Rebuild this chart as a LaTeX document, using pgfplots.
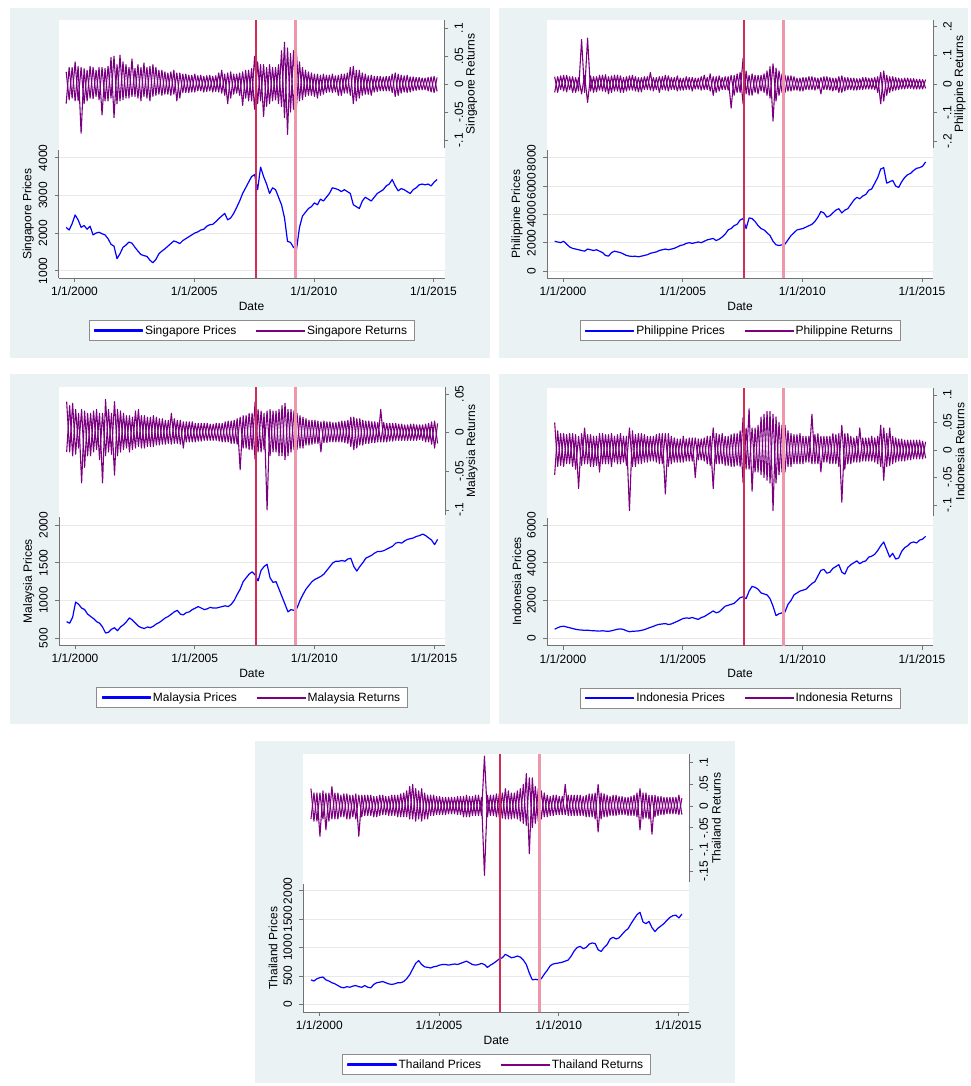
\documentclass[border=0pt]{standalone}
\usepackage{pgfplots}
\pgfplotsset{compat=1.18}
\usepackage{pgfplotstable}
\usepackage{fontspec}
\setmainfont{Liberation Sans}
\newcommand{\fs}{\fontsize{12}{14}\selectfont}
\definecolor{bgc}{RGB}{234,242,243}
\definecolor{vlA}{RGB}{210,45,85}
\definecolor{vlB}{RGB}{240,150,170}

\pgfplotsset{
  legend image code/.code={\fill[#1] (0pt,-0.55pt) rectangle (48pt,0.55pt);},
  common/.style={scale only axis, width=386pt, height=128pt, anchor=north west,
    xmin=1999.33, xmax=2015.46,
    tick align=outside, major tick length=4pt,
    tick style={draw=black!55, line width=0.6pt},
    axis line style={draw=black!55, line width=0.6pt},
    tick label style={font=\fs},
    scaled ticks=false},
  retax/.style={common, axis x line=none, axis y line*=right, ytick pos=right,
    yticklabel style={rotate=90, anchor=north, inner sep=0pt}, yticklabel shift=6pt,
    every axis y label/.style={at={(rel axis cs:1.07,0.5)}, rotate=90, anchor=center, font=\fs}},
  priceax/.style={common, axis x line*=bottom, axis y line*=left, xtick pos=left, ytick pos=left,
    xtick={2000,2005,2010,2015}, xticklabels={1/1/2000,1/1/2005,1/1/2010,1/1/2015},
    xticklabel style={anchor=north, inner sep=0pt}, xticklabel shift=5pt,
    yticklabel style={rotate=90, anchor=south, inner sep=0pt}, yticklabel shift=7pt,
    ymajorgrids, grid style={draw=black!9, line width=0.6pt},
    xlabel={Date},
    every axis x label/.style={at={(rel axis cs:0.5,0)}, anchor=center, yshift=-28pt, font=\fs},
    every axis y label/.style={at={(rel axis cs:-0.078,0.5)}, rotate=90, anchor=center, font=\fs},
    legend columns=2,
    legend style={at={(0.5,-0.33)}, anchor=north, draw=black!45, fill=white, line width=0.6pt,
      font=\fs, inner xsep=5pt, inner ysep=3pt,
      /tikz/every even column/.append style={column sep=18pt}},
    legend cell align=left},
  lineax/.style={common, height=258pt, ymin=0, ymax=1, hide axis},
}

% #1 L, #2 T, #3 table, #4 name, #5 returns opts, #6 price opts, #7 colour digit
\newcommand{\panel}[7]{%
\definecolor{pc}{RGB}{#7,0,255}%
\definecolor{rc}{RGB}{12#7,0,128}%
\fill[white] ({#1pt},{-#2pt}) rectangle ++(386pt,-258pt);
\begin{axis}[retax, at={({#1pt},{-#2pt})}, #5, ylabel={#4 Returns}]
\addplot[color=rc, line width=1.1pt, line join=round] table[x=x,y=r] {#3};
\addplot[color=rc, line width=1.1pt, line join=round] table[x=x,y=s] {#3};
\end{axis}
\begin{axis}[priceax, at={({#1pt},{-#2pt-130pt})}, #6, ylabel={#4 Prices}]
\addplot[color=pc, line width=1.2pt, line join=round] table[x=x,y=p] {#3};
\addlegendentry{#4 Prices}
\addlegendimage{color=rc}
\addlegendentry{#4 Returns}
\end{axis}
}
% red reference lines: #1 L, #2 T, #3 left edge of first line, #4 right edge of first line
\newcommand{\vlines}[4]{%
\begin{axis}[lineax, at={({#1pt},{-#2pt})}]
\addplot[fill=vlA, draw=none] coordinates {(#3,0) (#4,0) (#4,1) (#3,1)} -- cycle;
\addplot[fill=vlB, draw=none] coordinates {(2009.157,0) (2009.283,0) (2009.283,1) (2009.157,1)} -- cycle;
\end{axis}
}

\pgfplotstableread{
x p r s
1999.650 2150 .022 -.035
1999.775 2080 -.028 .030
1999.900 2250 .030 -.025
2000.025 2480 -.030 .040
2000.150 2350 .032 -.030
2000.275 2150 -.088 .030
2000.400 2200 .028 -.035
2000.525 2100 -.030 .025
2000.650 2180 .032 -.025
2000.775 1950 -.026 .030
2000.900 2000 .025 -.022
2001.025 2020 -.028 .030
2001.150 1980 .030 -.055
2001.275 1950 -.030 .028
2001.400 1850 .032 -.030
2001.525 1700 -.025 .048
2001.650 1650 .050 -.060
2001.775 1320 -.035 .035
2001.900 1450 .052 -.030
2002.025 1620 -.028 .040
2002.150 1680 .035 -.025
2002.275 1760 -.025 .030
2002.400 1730 .045 -.022
2002.525 1620 -.022 .028
2002.650 1520 .035 -.025
2002.775 1430 -.030 .030
2002.900 1400 .038 -.022
2003.025 1380 -.025 .030
2003.150 1280 .032 -.030
2003.275 1210 -.022 .035
2003.400 1300 .030 -.020
2003.525 1450 -.018 .025
2003.650 1520 .025 -.020
2003.775 1580 -.018 .022
2003.900 1650 .020 -.018
2004.025 1720 -.020 .022
2004.150 1790 .025 -.018
2004.275 1760 -.030 .020
2004.400 1720 .020 -.025
2004.525 1800 -.015 .018
2004.650 1850 .018 -.015
2004.775 1900 -.015 .016
2004.900 1950 .016 -.014
2005.025 2000 -.014 .018
2005.150 2030 .015 -.012
2005.275 2080 -.012 .016
2005.400 2100 .014 -.014
2005.525 2180 -.013 .015
2005.650 2220 .016 -.012
2005.775 2230 -.014 .014
2005.900 2300 .015 -.013
2006.025 2380 -.014 .020
2006.150 2450 .025 -.016
2006.275 2520 -.020 .018
2006.400 2350 .020 -.035
2006.525 2400 -.025 .022
2006.650 2520 .018 -.018
2006.775 2680 -.016 .018
2006.900 2850 .020 -.020
2007.025 3050 -.038 .022
2007.150 3200 .025 -.025
2007.275 3350 -.030 .025
2007.400 3500 .028 -.030
2007.525 3550 -.045 .050
2007.650 3150 .040 -.035
2007.775 3750 -.030 .035
2007.900 3500 .035 -.058
2008.025 3300 -.040 .030
2008.150 3050 .035 -.035
2008.275 3200 -.030 .030
2008.400 3150 .030 -.028
2008.525 2950 -.035 .035
2008.650 2750 .060 -.040
2008.775 2400 -.060 .075
2008.900 1780 .065 -.090
2009.025 1750 -.050 .055
2009.150 1620 .060 -.045
2009.275 1560 -.040 .055
2009.400 2150 .040 -.030
2009.525 2450 -.028 .030
2009.650 2550 .025 -.022
2009.775 2650 -.020 .022
2009.900 2700 .020 -.020
2010.025 2800 -.022 .018
2010.150 2750 .018 -.025
2010.275 2900 -.020 .016
2010.400 2850 .018 -.018
2010.525 2950 -.015 .016
2010.650 3050 .016 -.014
2010.775 3200 -.015 .018
2010.900 3180 .015 -.014
2011.025 3150 -.020 .016
2011.150 3100 .018 -.020
2011.275 3150 -.016 .018
2011.400 3100 .020 -.016
2011.525 3050 -.020 .030
2011.650 2750 .032 -.035
2011.775 2700 -.030 .025
2011.900 2650 .025 -.025
2012.025 2850 -.020 .020
2012.150 2950 .018 -.018
2012.275 2900 -.018 .015
2012.400 2850 .016 -.020
2012.525 2950 -.014 .014
2012.650 3050 .014 -.013
2012.775 3100 -.012 .014
2012.900 3150 .013 -.012
2013.025 3250 -.012 .014
2013.150 3300 .014 -.012
2013.275 3420 -.015 .018
2013.400 3250 .020 -.022
2013.525 3120 -.020 .018
2013.650 3180 .016 -.016
2013.775 3150 -.014 .015
2013.900 3100 .016 -.015
2014.025 3050 -.014 .013
2014.150 3150 .013 -.012
2014.275 3200 -.011 .012
2014.400 3280 .012 -.010
2014.525 3300 -.010 .011
2014.650 3280 .011 -.010
2014.775 3300 -.012 .012
2014.900 3250 .013 -.014
2015.025 3350 -.015 .014
2015.150 3420 .012 -.013
}\tSG

\pgfplotstableread{
x p r s
1999.650 2100 .025 -.030
1999.775 2050 -.030 .025
1999.900 2000 .028 -.020
2000.025 2100 -.025 .030
2000.150 1900 .030 -.028
2000.275 1700 -.020 .025
2000.400 1600 .025 -.030
2000.525 1550 -.030 .022
2000.650 1500 .022 -.025
2000.775 1450 -.035 .155
2000.900 1400 .030 -.030
2001.025 1550 -.065 .160
2001.150 1500 .028 -.025
2001.275 1450 -.030 .025
2001.400 1500 .025 -.028
2001.525 1400 -.022 .030
2001.650 1300 .030 -.025
2001.775 1100 -.028 .032
2001.900 1050 .025 -.035
2002.025 1300 -.030 .028
2002.150 1400 .030 -.025
2002.275 1350 -.025 .030
2002.400 1300 .028 -.030
2002.525 1200 -.030 .022
2002.650 1100 .025 -.025
2002.775 1050 -.022 .028
2002.900 1030 .030 -.022
2003.025 1050 -.025 .025
2003.150 1000 .022 -.028
2003.275 1050 -.028 .022
2003.400 1100 .025 -.020
2003.525 1150 -.020 .025
2003.650 1250 .040 -.022
2003.775 1300 -.025 .022
2003.900 1350 .022 -.020
2004.025 1450 -.030 .025
2004.150 1500 .025 -.020
2004.275 1550 -.022 .030
2004.400 1500 .028 -.025
2004.525 1550 -.020 .022
2004.650 1600 .022 -.020
2004.775 1700 -.025 .028
2004.900 1800 .020 -.022
2005.025 1850 -.022 .020
2005.150 1950 .025 -.020
2005.275 2000 -.020 .022
2005.400 1950 .022 -.025
2005.525 2000 -.018 .020
2005.650 2050 .020 -.018
2005.775 2000 -.022 .025
2005.900 2100 .030 -.020
2006.025 2200 -.020 .022
2006.150 2250 .035 -.025
2006.275 2300 -.040 .025
2006.400 2150 .025 -.030
2006.525 2250 -.025 .028
2006.650 2400 .022 -.020
2006.775 2600 -.020 .025
2006.900 2900 .025 -.022
2007.025 3000 -.085 .030
2007.150 3200 .030 -.040
2007.275 3300 -.030 .035
2007.400 3600 .040 -.030
2007.525 3700 -.070 .090
2007.650 3000 .045 -.035
2007.775 3750 -.040 .030
2007.900 3700 .035 -.040
2008.025 3500 -.030 .030
2008.150 3200 .030 -.035
2008.275 3000 -.025 .030
2008.400 2900 .035 -.030
2008.525 2700 -.040 .045
2008.650 2500 .060 -.050
2008.775 2100 -.130 .070
2008.900 1850 .055 -.060
2009.025 1800 -.040 .045
2009.150 1850 .035 -.030
2009.275 1900 -.030 .030
2009.400 2200 .028 -.025
2009.525 2500 -.025 .028
2009.650 2700 .025 -.022
2009.775 2900 -.022 .020
2009.900 2950 .020 -.025
2010.025 3000 -.025 .022
2010.150 3100 .022 -.020
2010.275 3200 -.020 .025
2010.400 3300 .025 -.020
2010.525 3500 -.022 .022
2010.650 3800 .020 -.018
2010.775 4200 -.035 .022
2010.900 4100 .025 -.020
2011.025 3800 -.020 .025
2011.150 3900 .022 -.022
2011.275 4100 -.025 .020
2011.400 4300 .020 -.022
2011.525 4400 -.030 .025
2011.650 4100 .028 -.030
2011.775 4300 -.025 .022
2011.900 4400 .022 -.020
2012.025 4700 -.020 .020
2012.150 5000 .020 -.022
2012.275 5200 -.022 .018
2012.400 5100 .018 -.020
2012.525 5300 -.020 .022
2012.650 5400 .022 -.018
2012.775 5700 -.018 .020
2012.900 5800 .020 -.018
2013.025 6200 -.020 .022
2013.150 6600 .025 -.030
2013.275 7200 -.070 .040
2013.400 7300 .045 -.060
2013.525 6200 -.040 .030
2013.650 6300 .025 -.030
2013.775 6400 -.025 .025
2013.900 6000 .022 -.022
2014.025 5900 -.020 .020
2014.150 6300 .018 -.018
2014.275 6600 -.018 .020
2014.400 6800 .020 -.016
2014.525 6900 -.016 .018
2014.650 7100 .018 -.018
2014.775 7250 -.018 .016
2014.900 7300 .016 -.018
2015.025 7400 -.018 .015
2015.150 7700 .015 -.016
}\tPH

\pgfplotstableread{
x p r s
1999.650 720 .040 -.025
1999.775 700 -.025 .035
1999.900 780 .038 -.030
2000.025 980 -.028 .030
2000.150 950 .025 -.020
2000.275 900 -.065 .030
2000.400 880 .028 -.045
2000.525 820 -.030 .025
2000.650 790 .025 -.030
2000.775 760 -.025 .028
2000.900 720 .030 -.022
2001.025 700 -.035 .025
2001.150 650 .025 -.065
2001.275 570 -.030 .043
2001.400 580 .030 -.025
2001.525 620 -.028 .025
2001.650 640 .040 -.055
2001.775 600 -.030 .030
2001.900 650 .028 -.025
2002.025 680 -.022 .025
2002.150 720 .022 -.020
2002.275 770 -.025 .022
2002.400 740 .020 -.022
2002.525 700 -.020 .028
2002.650 660 .030 -.018
2002.775 640 -.020 .022
2002.900 630 .022 -.020
2003.025 650 -.018 .020
2003.150 640 .020 -.018
2003.275 660 -.018 .022
2003.400 690 .020 -.016
2003.525 710 -.016 .018
2003.650 740 .018 -.015
2003.775 770 -.015 .016
2003.900 790 .016 -.014
2004.025 820 -.015 .025
2004.150 850 .018 -.014
2004.275 870 -.014 .016
2004.400 820 .016 -.015
2004.525 810 -.020 .014
2004.650 840 .014 -.012
2004.775 850 -.012 .014
2004.900 880 .014 -.012
2005.025 900 -.012 .012
2005.150 920 .012 -.011
2005.275 900 -.011 .012
2005.400 880 .012 -.010
2005.525 890 -.010 .012
2005.650 910 .011 -.010
2005.775 900 -.010 .011
2005.900 900 .012 -.010
2006.025 910 -.011 .012
2006.150 920 .012 -.012
2006.275 930 -.012 .014
2006.400 920 .015 -.012
2006.525 950 -.014 .015
2006.650 1000 .016 -.014
2006.775 1080 -.015 .018
2006.900 1150 .020 -.048
2007.025 1250 -.020 .022
2007.150 1300 .022 -.020
2007.275 1350 -.022 .025
2007.400 1380 .025 -.022
2007.525 1340 -.035 .040
2007.650 1260 .030 -.025
2007.775 1400 -.025 .028
2007.900 1450 .025 -.022
2008.025 1480 -.100 .028
2008.150 1300 .030 -.030
2008.275 1240 -.025 .028
2008.400 1250 .028 -.025
2008.525 1150 -.030 .030
2008.650 1050 .035 -.030
2008.775 950 -.035 .038
2008.900 850 .030 -.030
2009.025 880 -.025 .030
2009.150 870 .028 -.022
2009.275 900 -.022 .025
2009.400 1000 .022 -.020
2009.525 1080 -.020 .020
2009.650 1150 .018 -.016
2009.775 1200 -.016 .016
2009.900 1250 .016 -.015
2010.025 1280 -.014 .016
2010.150 1300 .015 -.014
2010.275 1320 -.025 .014
2010.400 1350 .015 -.013
2010.525 1400 -.013 .014
2010.650 1450 .014 -.012
2010.775 1500 -.012 .013
2010.900 1520 .013 -.012
2011.025 1520 -.012 .014
2011.150 1530 .015 -.012
2011.275 1520 -.013 .015
2011.400 1550 .016 -.014
2011.525 1560 -.018 .020
2011.650 1450 .020 -.022
2011.775 1390 -.020 .018
2011.900 1450 .018 -.016
2012.025 1500 -.016 .016
2012.150 1560 .015 -.014
2012.275 1580 -.014 .015
2012.400 1600 .014 -.013
2012.525 1630 -.013 .014
2012.650 1650 .013 -.012
2012.775 1650 -.012 .030
2012.900 1660 .013 -.012
2013.025 1680 -.012 .012
2013.150 1700 .012 -.011
2013.275 1720 -.011 .012
2013.400 1760 .012 -.010
2013.525 1770 -.010 .011
2013.650 1760 .011 -.010
2013.775 1790 -.010 .010
2013.900 1810 .010 -.010
2014.025 1820 -.010 .011
2014.150 1830 .011 -.010
2014.275 1850 -.010 .010
2014.400 1860 .010 -.009
2014.525 1880 -.010 .010
2014.650 1860 .011 -.012
2014.775 1830 -.012 .012
2014.900 1800 .014 -.015
2015.025 1740 -.020 .015
2015.150 1810 .012 -.014
}\tMY

\pgfplotstableread{
x p r s
1999.650 480 .050 -.045
1999.775 560 -.030 .035
1999.900 620 .030 -.028
2000.025 640 -.030 .030
2000.150 600 .028 -.025
2000.275 560 -.025 .030
2000.400 520 .030 -.030
2000.525 480 -.035 .028
2000.650 450 .025 -.070
2000.775 440 -.028 .030
2000.900 420 .040 -.025
2001.025 430 -.025 .028
2001.150 410 .028 -.030
2001.275 400 -.030 .025
2001.400 390 .025 -.028
2001.525 380 -.040 .030
2001.650 400 .030 -.025
2001.775 380 -.025 .028
2001.900 370 .028 -.025
2002.025 400 -.030 .030
2002.150 440 .025 -.022
2002.275 480 -.025 .028
2002.400 500 .030 -.025
2002.525 470 -.022 .025
2002.650 400 .025 -.028
2002.775 350 -.110 .040
2002.900 370 .035 -.030
2003.025 380 -.030 .028
2003.150 390 .030 -.025
2003.275 420 -.025 .030
2003.400 460 .028 -.022
2003.525 520 -.022 .025
2003.650 580 .025 -.020
2003.775 630 -.020 .025
2003.900 700 .028 -.022
2004.025 740 -.025 .030
2004.150 760 .030 -.025
2004.275 780 -.080 .030
2004.400 730 .030 -.030
2004.525 760 -.025 .025
2004.650 830 .022 -.022
2004.775 900 -.022 .020
2004.900 980 .020 -.022
2005.025 1050 -.022 .025
2005.150 1080 .020 -.020
2005.275 1060 -.020 .022
2005.400 1100 .022 -.020
2005.525 1050 -.050 .022
2005.650 1000 .020 -.018
2005.775 1100 -.018 .020
2005.900 1150 .022 -.020
2006.025 1250 -.025 .025
2006.150 1350 .025 -.028
2006.275 1450 -.070 .040
2006.400 1350 .030 -.025
2006.525 1400 -.025 .028
2006.650 1550 .030 -.025
2006.775 1700 -.028 .025
2006.900 1750 .025 -.028
2007.025 1800 -.030 .028
2007.150 1850 .030 -.030
2007.275 2000 -.028 .030
2007.400 2150 .035 -.030
2007.525 2200 -.060 .060
2007.650 2100 .040 -.035
2007.775 2500 -.035 .075
2007.900 2750 .040 -.075
2008.025 2700 -.040 .040
2008.150 2600 .045 -.040
2008.275 2400 -.045 .060
2008.400 2350 .065 -.050
2008.525 2300 -.055 .070
2008.650 2100 .070 -.060
2008.775 1700 -.110 .065
2008.900 1200 .060 -.060
2009.025 1300 -.045 .050
2009.150 1350 .045 -.040
2009.275 1400 -.040 .045
2009.400 1800 .035 -.030
2009.525 2000 -.030 .030
2009.650 2300 .028 -.025
2009.775 2400 -.025 .028
2009.900 2500 .030 -.025
2010.025 2550 -.025 .025
2010.150 2600 .025 -.022
2010.275 2750 -.022 .025
2010.400 2900 .065 -.025
2010.525 3000 -.025 .028
2010.650 3300 .030 -.025
2010.775 3600 -.040 .025
2010.900 3650 .025 -.022
2011.025 3450 -.022 .025
2011.150 3500 .025 -.025
2011.275 3700 -.025 .030
2011.400 3800 .028 -.025
2011.525 3900 -.030 .030
2011.650 3500 .045 -.095
2011.775 3400 -.035 .030
2011.900 3750 .030 -.025
2012.025 3900 -.025 .025
2012.150 4000 .022 -.022
2012.275 4100 -.022 .025
2012.400 3950 .040 -.022
2012.525 4050 -.020 .022
2012.650 4100 .022 -.020
2012.775 4300 -.020 .022
2012.900 4350 .025 -.020
2013.025 4450 -.022 .022
2013.150 4650 .025 -.025
2013.275 4900 -.030 .045
2013.400 5100 .040 -.055
2013.525 4700 -.030 .030
2013.650 4300 .040 -.028
2013.775 4500 -.025 .025
2013.900 4200 .022 -.022
2014.025 4250 -.020 .020
2014.150 4600 .020 -.020
2014.275 4800 -.020 .018
2014.400 4900 .018 -.018
2014.525 5050 -.018 .018
2014.650 5100 .018 -.016
2014.775 5050 -.016 .018
2014.900 5200 .018 -.016
2015.025 5250 -.016 .016
2015.150 5400 .015 -.015
}\tID

\pgfplotstableread{
x p r s
1999.650 430 .040 -.030
1999.775 410 -.035 .030
1999.900 450 .030 -.035
2000.025 470 -.070 .030
2000.150 480 .035 -.030
2000.275 430 -.055 .030
2000.400 410 .030 -.035
2000.525 380 -.030 .045
2000.650 360 .030 -.030
2000.775 330 -.030 .030
2000.900 300 .025 -.025
2001.025 290 -.025 .028
2001.150 310 .028 -.030
2001.275 300 -.030 .025
2001.400 320 .025 -.025
2001.525 330 -.030 .028
2001.650 310 .025 -.070
2001.775 300 -.025 .025
2001.900 330 .025 -.022
2002.025 300 -.022 .025
2002.150 290 .025 -.022
2002.275 350 -.025 .022
2002.400 380 .022 -.025
2002.525 390 -.022 .025
2002.650 400 .025 -.020
2002.775 380 -.020 .022
2002.900 360 .022 -.022
2003.025 350 -.022 .025
2003.150 360 .025 -.022
2003.275 380 -.025 .025
2003.400 380 .028 -.025
2003.525 400 -.025 .030
2003.650 450 .035 -.025
2003.775 520 -.030 .045
2003.900 620 .050 -.030
2004.025 720 -.035 .040
2004.150 770 .035 -.030
2004.275 700 -.035 .040
2004.400 660 .030 -.030
2004.525 650 -.030 .025
2004.650 640 .025 -.022
2004.775 660 -.022 .025
2004.900 670 .022 -.020
2005.025 690 -.020 .022
2005.150 700 .020 -.020
2005.275 700 -.020 .020
2005.400 690 .020 -.018
2005.525 700 -.018 .020
2005.650 710 .020 -.018
2005.775 700 -.020 .022
2005.900 720 .022 -.020
2006.025 740 -.025 .022
2006.150 760 .025 -.025
2006.275 730 -.025 .022
2006.400 700 .022 -.022
2006.525 690 -.022 .025
2006.650 700 .025 -.022
2006.775 720 -.022 .020
2006.900 700 .115 -.160
2007.025 650 -.025 .025
2007.150 690 .025 -.022
2007.275 720 -.022 .025
2007.400 760 .028 -.025
2007.525 800 -.028 .030
2007.650 820 .030 -.028
2007.775 880 -.030 .040
2007.900 850 .035 -.030
2008.025 820 -.030 .030
2008.150 830 .030 -.028
2008.275 850 -.030 .035
2008.400 830 .040 -.035
2008.525 780 -.040 .050
2008.650 700 .075 -.045
2008.775 550 -.110 .065
2008.900 430 .065 -.050
2009.025 440 -.040 .045
2009.150 430 .040 -.035
2009.275 450 -.030 .035
2009.400 530 .030 -.025
2009.525 600 -.025 .025
2009.650 680 .022 -.022
2009.775 710 -.022 .025
2009.900 720 .025 -.020
2010.025 730 -.020 .022
2010.150 740 .022 -.020
2010.275 760 -.020 .050
2010.400 780 .025 -.022
2010.525 850 -.022 .025
2010.650 940 .025 -.022
2010.775 1000 -.022 .025
2010.900 1020 .025 -.022
2011.025 980 -.022 .022
2011.150 1000 .025 -.025
2011.275 1060 -.025 .028
2011.400 1080 .028 -.025
2011.525 1070 -.030 .030
2011.650 960 .050 -.060
2011.775 930 -.030 .030
2011.900 1000 .028 -.025
2012.025 1050 -.025 .025
2012.150 1150 .022 -.022
2012.275 1180 -.022 .025
2012.400 1150 .025 -.022
2012.525 1170 -.020 .022
2012.650 1230 .022 -.020
2012.775 1290 -.020 .020
2012.900 1330 .020 -.022
2013.025 1420 -.022 .022
2013.150 1500 .025 -.022
2013.275 1580 -.025 .030
2013.400 1620 .040 -.055
2013.525 1450 -.030 .030
2013.650 1420 .030 -.028
2013.775 1460 -.030 .025
2013.900 1350 .025 -.065
2014.025 1280 -.025 .025
2014.150 1340 .022 -.022
2014.275 1380 -.020 .022
2014.400 1420 .020 -.020
2014.525 1480 -.018 .020
2014.650 1530 .020 -.018
2014.775 1560 -.018 .020
2014.900 1570 .020 -.018
2015.025 1520 -.020 .025
2015.150 1590 .018 -.020
}\tTH

\begin{document}
\begin{tikzpicture}[x=1pt,y=1pt]
\path[use as bounding box] (0,0) rectangle (970,-1086);
\fill[white] (0,0) rectangle (970,-1086);
\fill[bgc] (10,-8) rectangle (490,-358);
\fill[bgc] (499,-8) rectangle (968,-358);
\fill[bgc] (10,-374) rectangle (490,-724);
\fill[bgc] (499,-374) rectangle (968,-724);
\fill[bgc] (255,-741) rectangle (735,-1083);

\panel{58.5}{20}{\tSG}{Singapore}{ymin=-0.1143, ymax=0.1149, ytick={-0.1,-0.05,0,0.05,0.1}, yticklabels={-.1,-.05,0,.05,.1}}{ymin=806, ymax=4204, ytick={1000,2000,3000,4000}, yticklabels={1000,2000,3000,4000}}{1}
\panel{547}{20}{\tPH}{Philippine}{ymin=-0.2245, ymax=0.2234, ytick={-0.2,-0.1,0,0.1,0.2}, yticklabels={-.2,-.1,0,.1,.2}}{ymin=-494, ymax=8544, ytick={0,2000,4000,6000,8000}, yticklabels={0,2000,4000,6000,8000}}{2}
\panel{59}{387}{\tMY}{Malaysia}{ymin=-0.1065, ymax=0.059, ytick={-0.1,-0.05,0,0.05}, yticklabels={-.1,-.05,0,.05}}{ymin=411, ymax=2106, ytick={500,1000,1500,2000}, yticklabels={500,1000,1500,2000}}{3}
\panel{547}{387.5}{\tID}{Indonesia}{ymin=-0.119, ymax=0.1136, ytick={-0.1,-0.05,0,0.05,0.1}, yticklabels={-.1,-.05,0,.05,.1}}{ymin=-381, ymax=6397, ytick={0,2000,4000,6000}, yticklabels={0,2000,4000,6000}}{4}
\panel{303.3}{754}{\tTH}{Thailand}{ymin=-0.1754, ymax=0.12, ytick={-0.15,-0.1,-0.05,0,0.05,0.1}, yticklabels={-.15,-.1,-.05,0,.05,.1}}{ymin=-136, ymax=2118, ytick={0,500,1000,1500,2000}, yticklabels={0,500,1000,1500,2000}}{5}

\vlines{58.5}{20}{2007.555}{2007.635}
\vlines{547}{20}{2007.527}{2007.593}
\vlines{59}{387}{2007.527}{2007.593}
\vlines{547}{387.5}{2007.527}{2007.593}
\vlines{303.3}{754}{2007.527}{2007.593}
\end{tikzpicture}
\end{document}
